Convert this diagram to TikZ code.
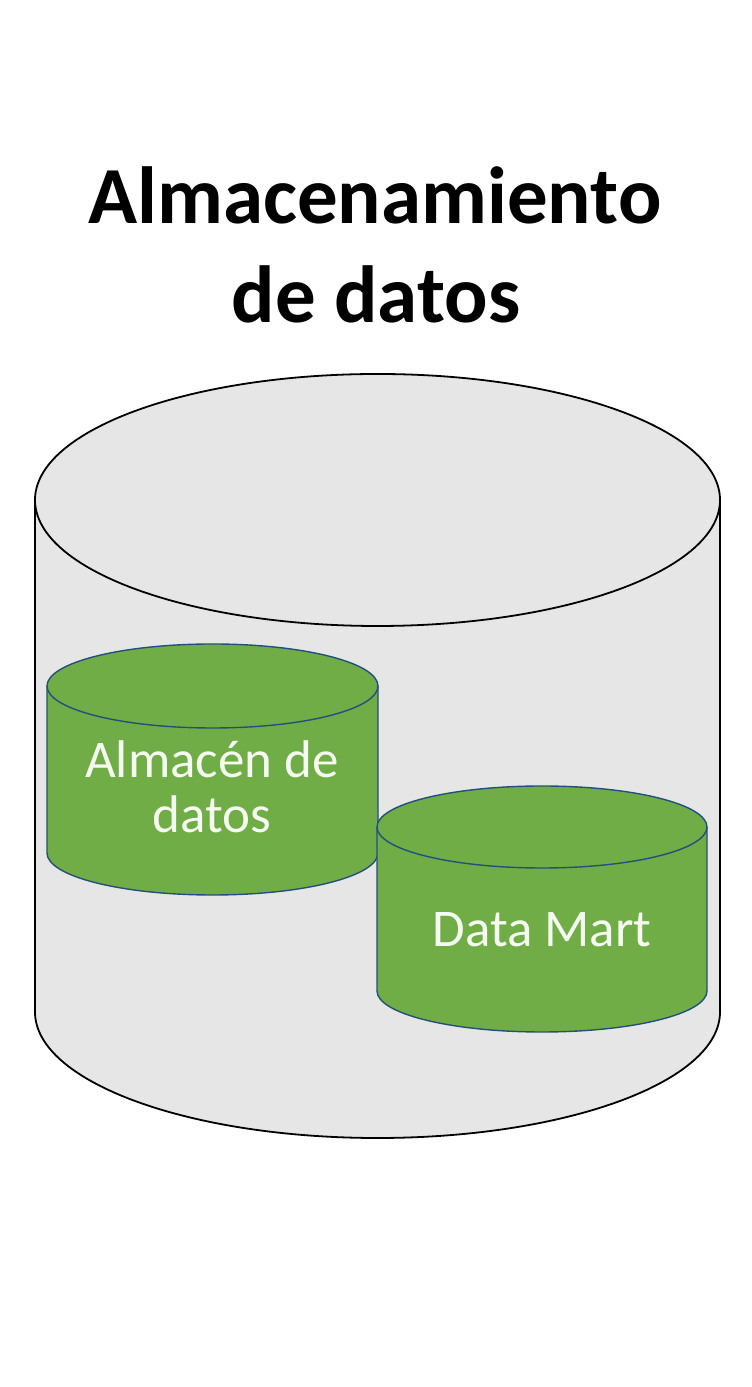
\documentclass[tikz,border=0pt]{standalone}
\usepackage{fontspec}
\setmainfont{Carlito}
\definecolor{cylgray}{HTML}{E7E6E6}
\definecolor{cylgreen}{HTML}{70AD47}
\definecolor{cylblue}{HTML}{23507A}
\definecolor{txtwhite}{HTML}{F6FBF2}
\tikzset{
	bigcyl/.style={draw=black,line width=1.8pt},
	smallcyl/.style={draw=cylblue,line width=1.4pt},
	titletext/.style={font=\fontsize{81}{99}\selectfont\bfseries,anchor=base,inner sep=0pt},
	cyltext/.style={font=\fontsize{53}{55}\selectfont,text=txtwhite,anchor=base,inner sep=0pt}
}
\begin{document}
\begin{tikzpicture}[x=1pt,y=1pt]
			\useasboundingbox[fill=white] (0,0) rectangle (752,1387);

			\node[titletext] (titleA) at (375,1163) {Almacenamiento};
			\node[titletext] (titleB) at (376,1064) {de datos};

			\fill[cylgray] (35,887) -- (35,375) arc (180:360:342.5 and 126) -- (720,887) arc (0:180:342.5 and 126) -- cycle;
			\draw[bigcyl] (377.5,887) ellipse (342.5 and 126);
			\draw[bigcyl] (35,887) -- (35,375) arc (180:360:342.5 and 126) -- (720,887);

			\fill[cylgreen] (47,701) -- (47,534) arc (180:360:165.5 and 42) -- (378,701) arc (0:180:165.5 and 42) -- cycle;
			\draw[smallcyl] (212.5,701) ellipse (165.5 and 42);
			\draw[smallcyl] (47,701) -- (47,534) arc (180:360:165.5 and 42) -- (378,701);
			\node[cyltext] (almacen) at (212,609) {Almacén de};
			\node[cyltext] (almacenb) at (212,554) {datos};

			\fill[cylgreen] (377,560) -- (377,396) arc (180:360:165 and 41) -- (707,560) arc (0:180:165 and 41) -- cycle;
			\draw[smallcyl] (542,560) ellipse (165 and 41);
			\draw[smallcyl] (377,560) -- (377,396) arc (180:360:165 and 41) -- (707,560);
			\node[cyltext] (datamart) at (542,440) {Data Mart};
		\end{tikzpicture}
\end{document}
